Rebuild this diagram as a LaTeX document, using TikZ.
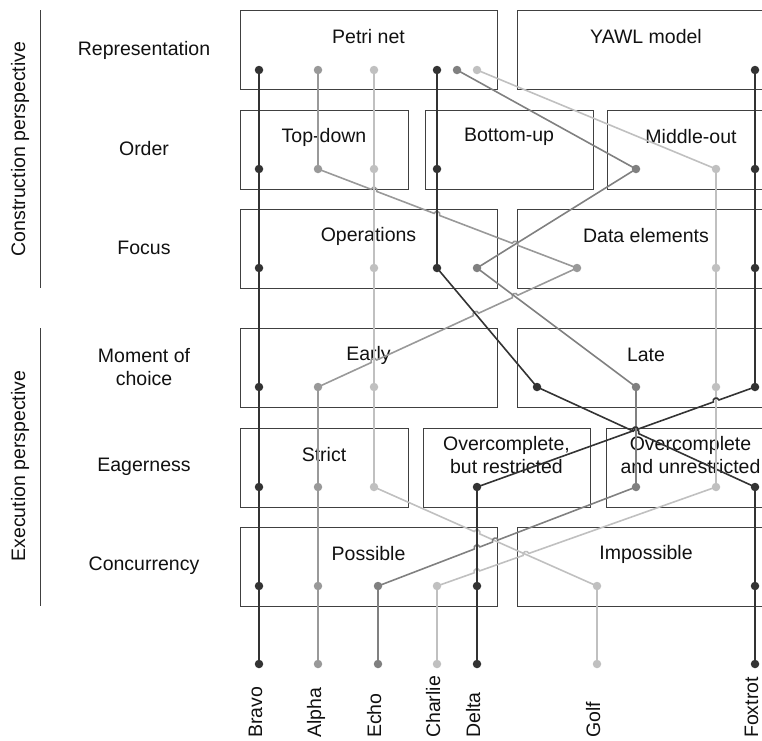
\documentclass[tikz,border=0pt]{standalone}
\usepackage{fontspec}
\setmainfont{Liberation Sans}
\usetikzlibrary{calc}

\definecolor{cDark}{HTML}{333333}
\definecolor{cAlpha}{HTML}{999999}
\definecolor{cEcho}{HTML}{808080}
\definecolor{cLight}{HTML}{C0C0C0}
\definecolor{cBorder}{HTML}{404040}
\definecolor{cText}{HTML}{111111}

\tikzset{
  optbox/.style={draw=cBorder, line width=1pt, rectangle, inner sep=0pt, outer sep=0pt,
                 minimum height=79pt, anchor=north west},
  lbl/.style={font=\fontsize{19.5}{23}\selectfont, text=cText, align=center, inner sep=0pt},
  vlbl/.style={lbl, rotate=90, anchor=base west},
  dot/.style={circle, fill=#1, draw=none, inner sep=0pt, outer sep=0pt, minimum size=8.5pt},
  wire/.style={draw=#1, line width=1.6pt},
  divider/.style={draw=cBorder, line width=1pt},
}

% straight wire through a chain of dots
\newcommand\wirechain[2]{\draw[wire=#1] #2;}
% wire from #2 to #3 that hops over crossing lines at the given fractions
\newcommand\hopwire[4]{%
  \draw[wire=#1] (#2)
    \foreach \t in {#4} {
      -- ($(#2)!\t!(#3)!3pt!(#2)$)
      .. controls ($(#2)!\t!(#3)!3pt!(#2)!4pt!90:(#3)$)
         and ($(#2)!\t!(#3)!3pt!(#3)!4pt!-90:(#2)$)
      .. ($(#2)!\t!(#3)!3pt!(#3)$)
    } -- (#3);}

\begin{document}
\begin{tikzpicture}[x=1pt, y=-1pt]
\useasboundingbox (0,0) rectangle (762,740);
\clip (0,0) rectangle (762,740);

% ---- perspective brackets and dimension names
\node[lbl, rotate=90] (construction) at (20,149) {Construction perspective};
\node[lbl, rotate=90] (execution) at (20,466) {Execution perspective};
\draw[divider] (40,10) -- (40,288);
\draw[divider] (40,328) -- (40,606);

\node[lbl] (representation) at (144,50) {Representation};
\node[lbl] (order) at (144,149) {Order};
\node[lbl] (focus) at (144,248) {Focus};
\node[lbl] (moment) at (144,367) {Moment of\\choice};
\node[lbl] (eagerness) at (144,467) {Eagerness};
\node[lbl] (concurrency) at (144,566) {Concurrency};

% ---- option boxes
\node[optbox, minimum width=257pt] (petri) at (240,10) {};
\node[optbox, minimum width=258pt] (yawl) at (517,10) {};
\node[optbox, minimum width=168pt] (topdown) at (240,110) {};
\node[optbox, minimum width=168pt] (bottomup) at (425,110) {};
\node[optbox, minimum width=168pt] (middleout) at (607,110) {};
\node[optbox, minimum width=257pt] (operations) at (240,209) {};
\node[optbox, minimum width=258pt] (dataelem) at (517,209) {};
\node[optbox, minimum width=257pt] (early) at (240,328) {};
\node[optbox, minimum width=258pt] (late) at (517,328) {};
\node[optbox, minimum width=168pt] (strict) at (240,428) {};
\node[optbox, minimum width=167pt] (overres) at (423,428) {};
\node[optbox, minimum width=169pt] (overunres) at (606,428) {};
\node[optbox, minimum width=257pt] (possible) at (240,527) {};
\node[optbox, minimum width=258pt] (impossible) at (517,527) {};

\foreach \b/\txt in {petri/Petri net, yawl/YAWL model, topdown/Top-down,
    bottomup/Bottom-up, middleout/Middle-out, operations/Operations,
    dataelem/Data elements, early/Early, late/Late, strict/Strict,
    overres/{Overcomplete,\\but restricted},
    overunres/{Overcomplete\\and unrestricted},
    possible/Possible, impossible/Impossible}
  \node[lbl] (\b-t) at ($(\b.north)+(0,27)$) {\txt};

% ---- dots of each configuration (rows 1-6, 7 = end point)
\foreach \n/\xs in {bravo/{259,259,259,259,259,259,259},
                    alpha/{318,318,577,318,318,318,318},
                    golf/{374,374,374,374,374,597,597},
                    foxtrot/{437,437,437,537,755,755,755},
                    echo/{457,636,477,636,636,378,378},
                    charlie/{477,716,716,716,716,437,437},
                    delta/{755,755,755,755,477,477,477}}
  \foreach \x [count=\r] in \xs {
    \pgfmathsetmacro\yy{{70,169,268,387,487,586,664}[\r-1]}
    \coordinate (\n\r) at (\x,\yy);
  };

% ---- wires
\wirechain{cDark}{(bravo1) -- (bravo7)}

\wirechain{cAlpha}{(alpha1) -- (alpha2)}
\hopwire{cAlpha}{alpha2}{alpha3}{0.216,0.459,0.761}
\hopwire{cAlpha}{alpha4}{alpha3}{0.216,0.610,0.761}
\wirechain{cAlpha}{(alpha4) -- (alpha7)}

\wirechain{cLight}{(golf1) -- (golf5)}
\hopwire{cLight}{golf5}{golf6}{0.462}
\wirechain{cLight}{(golf6) -- (golf7)}

\wirechain{cDark}{(foxtrot1) -- (foxtrot3) -- (foxtrot4)}
\hopwire{cDark}{foxtrot4}{foxtrot5}{0.454}
\wirechain{cDark}{(foxtrot5) -- (foxtrot7)}

\wirechain{cEcho}{(echo1) -- (echo2) -- (echo3) -- (echo4) -- (echo5)}
\hopwire{cEcho}{echo6}{echo5}{0.384,0.455}
\wirechain{cEcho}{(echo6) -- (echo7)}

\wirechain{cLight}{(charlie1) -- (charlie2) -- (charlie5)}
\hopwire{cLight}{charlie6}{charlie5}{0.143,0.319}
\wirechain{cLight}{(charlie6) -- (charlie7)}

\wirechain{cDark}{(delta1) -- (delta4)}
\hopwire{cDark}{delta5}{delta4}{0.57,0.860}
\wirechain{cDark}{(delta5) -- (delta7)}

% ---- dots on top of the wires
\foreach \n/\c in {bravo/cDark, alpha/cAlpha, golf/cLight, foxtrot/cDark,
                   echo/cEcho, charlie/cLight, delta/cDark}
  \foreach \r in {1,...,7}
    \node[dot=\c] (\n\r-dot) at (\n\r) {};

% ---- configuration names
\foreach \n/\txt in {bravo/Bravo, alpha/Alpha, echo/Echo, charlie/Charlie,
                     delta/Delta, golf/Golf, foxtrot/Foxtrot}
  \node[vlbl] (\n-name) at ($(\n7)+(3,74)$) {\txt};
\end{tikzpicture}
\end{document}
